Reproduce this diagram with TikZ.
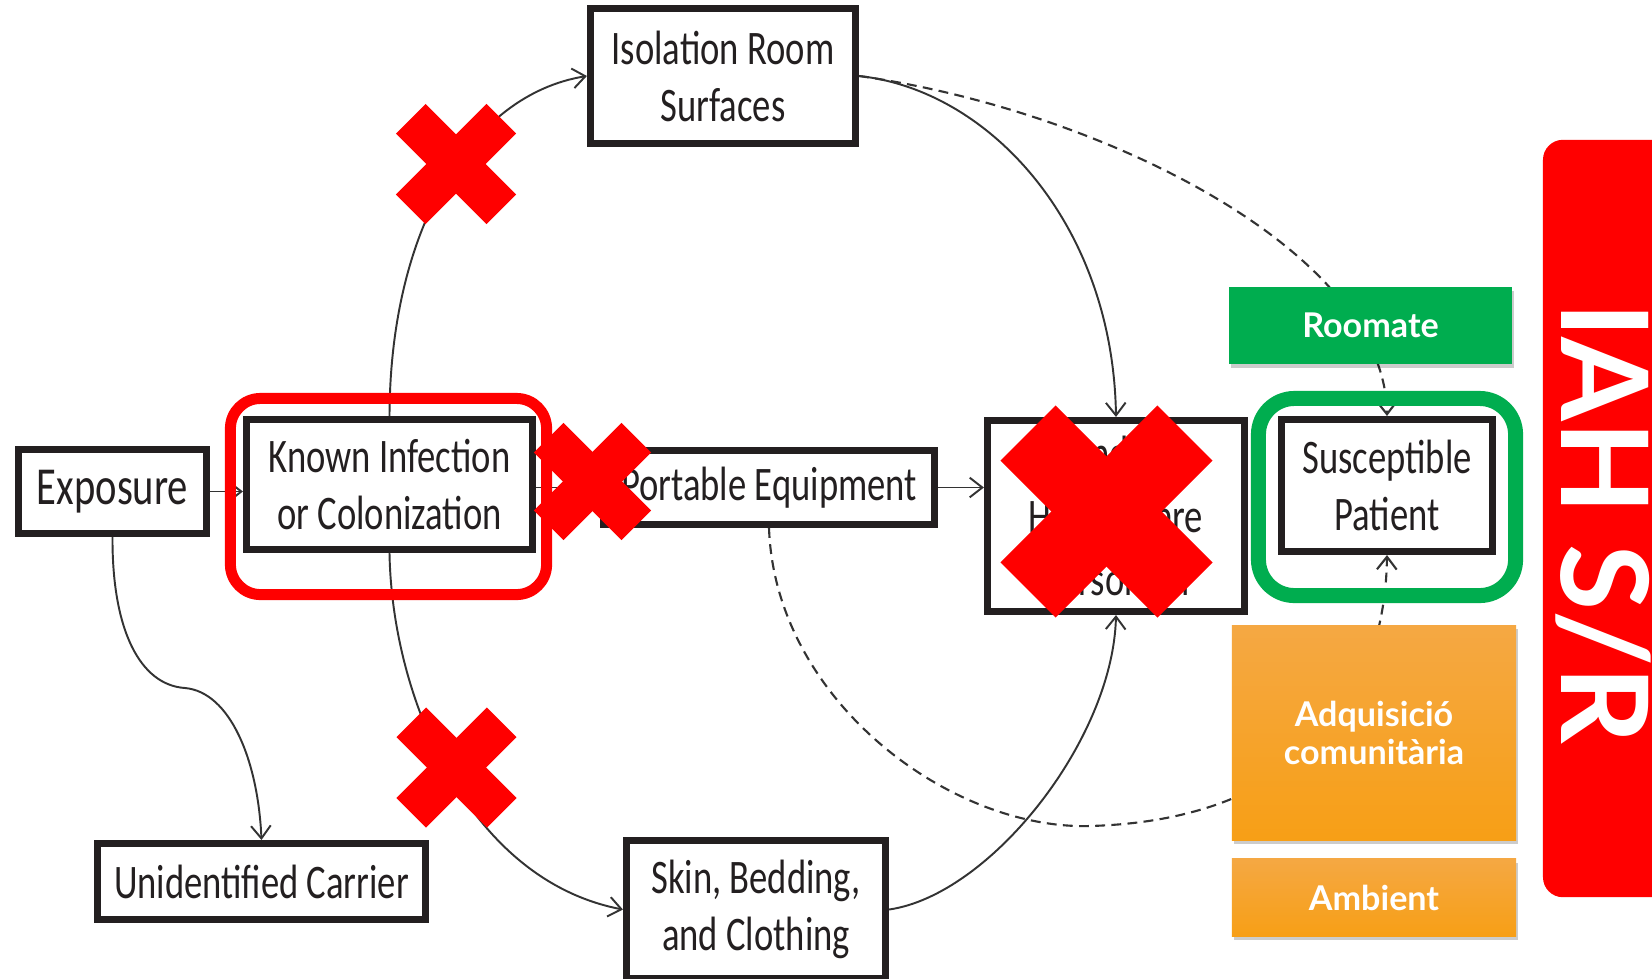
\documentclass[tikz,border=0pt]{standalone}
\usepackage{fontspec}
\usetikzlibrary{arrows.meta,shadows}
\newfontfamily\boxfont[FakeStretch=0.76]{Carlito}
\newfontfamily\tagfont{Lato}

\definecolor{ink}{HTML}{231F20}
\definecolor{linegray}{HTML}{333333}
\definecolor{xred}{HTML}{FF0000}
\definecolor{leafgreen}{HTML}{00AD4F}
\definecolor{amberTop}{HTML}{F5A843}
\definecolor{amberBot}{HTML}{F79F16}

% a thick red cross: centre, half arm length, half arm width
\newcommand\drawcross[3]{%
  \begin{scope}[shift={#1}]
    \fill[xred,rotate=45] (-#2,-#3) rectangle (#2,#3);
    \fill[xred,rotate=-45] (-#2,-#3) rectangle (#2,#3);
  \end{scope}}

\begin{document}
\begin{tikzpicture}[x=0.01cm,y=-0.01cm,
  flowbox/.style={draw=ink,line width=0.07cm,fill=white,inner sep=0pt,
    align=center,text=ink,font=\boxfont\fontsize{13.7}{16.2}\selectfont},
  link/.style={draw=linegray,line width=0.55pt,
    -{Straight Barb[length=3.6pt,width=5.6pt]}},
  dashlink/.style={link,line width=0.6pt,dash pattern=on 2.8pt off 1.8pt},
  tagbox/.style={inner sep=0pt,text=white,align=center,
    font=\tagfont\bfseries\fontsize{9.7}{10.8}\selectfont,
    drop shadow={shadow xshift=0.6pt,shadow yshift=-1pt,fill=black,opacity=0.2}},
  redring/.style={draw=xred,line width=0.11cm,rounded corners=0.30cm,inner sep=0pt},
  greenring/.style={draw=leafgreen,line width=0.15cm,rounded corners=0.36cm,inner sep=0pt}
]
\useasboundingbox (0,0) rectangle (1652,978);
\clip (0,0) rectangle (1652,978);
\fill[white] (0,0) rectangle (1652,978);

% transmission pathway boxes
\node[flowbox,minimum width=1.88cm,minimum height=0.84cm,
  font=\boxfont\fontsize{15.2}{17}\selectfont] (Exposure) at (112.5,491.5) {Exposure};
\node[flowbox,minimum width=2.86cm,minimum height=1.30cm] (Known) at (389.5,484.5)
  {Known Infection\\or Colonization};
\node[flowbox,minimum width=2.65cm,minimum height=1.35cm] (Isolation) at (723,76)
  {Isolation Room\\Surfaces};
\node[flowbox,minimum width=3.31cm,minimum height=0.74cm] (Portable) at (769,487.5)
  {Portable Equipment};
\node[flowbox,minimum width=2.57cm,minimum height=1.91cm,
  font=\boxfont\fontsize{13.7}{18}\selectfont] (Hands) at (1116,516)
  {Hands of\\Health Care\\Personnel};
\node[flowbox,minimum width=2.11cm,minimum height=1.32cm] (Susceptible) at (1387,485.5)
  {Susceptible\\Patient};
\node[flowbox,minimum width=3.28cm,minimum height=0.76cm] (Unidentified) at (261.5,881.5)
  {Unidentified Carrier};
\node[flowbox,minimum width=2.59cm,minimum height=1.38cm] (Skin) at (756,909.5)
  {Skin, Bedding,\\and Clothing};

% connectors
\draw[link] (Exposure.east) -- (Exposure.east -| Known.west);
\draw[link] (Exposure.south) .. controls (112,630) and (140,685) .. (185,688)
  .. controls (230,692) and (258,760) .. (Unidentified.north);
\draw[link] (Known.north) .. controls (390,230) and (470,95) .. (Isolation.west);
\draw[link] (Known.south) .. controls (392,700) and (470,880) .. (Skin.west);
\draw[link] (Portable.west -| Known.east) -- (Portable.west);
\draw[link] (Portable.east) -- (Portable.east -| Hands.west);
\draw[link] (Isolation.east) .. controls (990,90) and (1113,225) .. (Hands.north);
\draw[link] (Skin.east) .. controls (990,895) and (1113,740) .. (Hands.south);
\draw[dashlink] (Isolation.east) .. controls (1100,110) and (1385,250) .. (Susceptible.north);
\draw[dashlink] (Portable.south) .. controls (775,700) and (950,830) .. (1090,826)
  .. controls (1300,820) and (1385,700) .. (Susceptible.south);

% source boxes on the right
\node[tagbox,fill=leafgreen,minimum width=2.83cm,minimum height=0.77cm]
  (Roomate) at (1370.5,325.5) {Roomate};
\node[tagbox,top color=amberTop,bottom color=amberBot,minimum width=2.84cm,minimum height=2.14cm]
  (Community) at (1374,733) {Adquisició\\comunitària};
\node[tagbox,top color=amberTop,bottom color=amberBot,minimum width=2.84cm,minimum height=0.77cm]
  (Ambient) at (1374,897.5) {Ambient};

% highlight rings
\node[redring,minimum width=3.16cm,minimum height=1.96cm] (KnownRing) at (388.5,496.5) {};
\node[greenring,minimum width=2.57cm,minimum height=1.97cm] (PatientRing) at (1387,497) {};

% blocked routes
\drawcross{(456,164)}{64}{21}
\drawcross{(592.5,481.5)}{62}{21}
\drawcross{(456.5,767.5)}{64}{21}
\drawcross{(1106.5,511.5)}{111}{39}

% side banner
\node[fill=xred,rounded corners=0.2cm,minimum width=1.5cm,minimum height=7.57cm,inner sep=0pt]
  (Banner) at (1618,518.5) {};
\node[rotate=-90,text=white,inner sep=0pt,font=\tagfont\bfseries\fontsize{34.3}{34}\selectfont]
  (BannerText) at (1603,523) {IAH S/R};
\end{tikzpicture}
\end{document}
